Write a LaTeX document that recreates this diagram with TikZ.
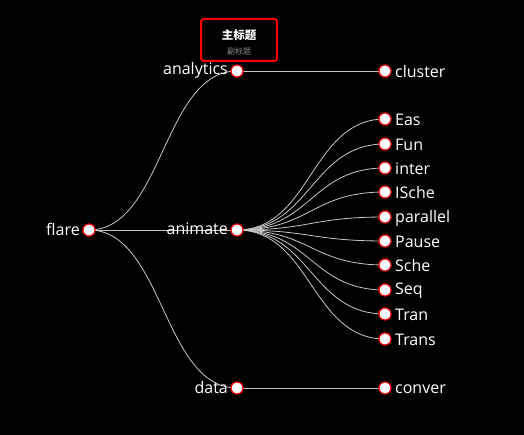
\documentclass[tikz,border=0pt]{standalone}
\usepackage{fontspec}
\setmainfont{Open Sans}
\newfontfamily\cjk{Noto Sans CJK SC}
\begin{document}
\begin{tikzpicture}[x=1pt,y=-1pt,
  dot/.style={circle,draw=red,fill=white,line width=1.2pt,minimum size=12pt,inner sep=0pt},
  edge/.style={draw=black!22,line width=0.8pt},
  lbl/.style={text=white,font=\fontsize{16}{18}\selectfont,inner sep=0pt}]
\fill[black] (0,0) rectangle (524,435);
\useasboundingbox (0,0) rectangle (524,435);
% title
\node[draw=red,line width=2pt,rounded corners=3pt,minimum width=76pt,minimum height=42pt] (titlebox) at (239,40) {};
\node[text=white,font=\cjk\bfseries\fontsize{11.5}{13}\selectfont] (title) at (239,35) {主标题};
\node[text=black!45,font=\cjk\fontsize{8}{10}\selectfont] (subtitle) at (239,51) {副标题};
% nodes
\coordinate (flare) at (89,230);
\coordinate (analytics) at (237,71);
\coordinate (animate) at (237,230);
\coordinate (data) at (237,388);
\coordinate (cluster) at (385,71);
\coordinate (Eas) at (385,119);
\coordinate (Fun) at (385,144);
\coordinate (inter) at (385,168);
\coordinate (ISche) at (385,192);
\coordinate (parallel) at (385,217);
\coordinate (Pause) at (385,241);
\coordinate (Sche) at (385,265);
\coordinate (Seq) at (385,290);
\coordinate (Tran) at (385,314);
\coordinate (Trans) at (385,339);
\coordinate (conver) at (385,388);
% edges
\foreach \c in {analytics,animate,data}
  \draw[edge] (flare) .. controls +(74,0) and +(-74,0) .. (\c);
\draw[edge] (analytics) .. controls +(74,0) and +(-74,0) .. (cluster);
\draw[edge] (data) .. controls +(74,0) and +(-74,0) .. (conver);
\foreach \c in {Eas,Fun,inter,ISche,parallel,Pause,Sche,Seq,Tran,Trans}
  \draw[edge] (animate) .. controls +(74,0) and +(-74,0) .. (\c);
% labels
\node[lbl,anchor=east] (flarelbl) at (80,229) {flare};
\node[lbl,anchor=east] (analyticslbl) at (228,70) {analytics};
\node[lbl,anchor=east] (animatelbl) at (228,229) {animate};
\node[lbl,anchor=east] (datalbl) at (228,387) {data};
\foreach \c in {cluster,Eas,Fun,inter,ISche,parallel,Pause,Sche,Seq,Tran,Trans,conver}
  \node[lbl,anchor=west] (\c lbl) at ([xshift=10pt,yshift=-1pt]\c) {\c};
% dots
\foreach \c in {flare,analytics,animate,data,cluster,Eas,Fun,inter,ISche,parallel,Pause,Sche,Seq,Tran,Trans,conver}
  \node[dot] (\c dot) at (\c) {};
\end{tikzpicture}
\end{document}
